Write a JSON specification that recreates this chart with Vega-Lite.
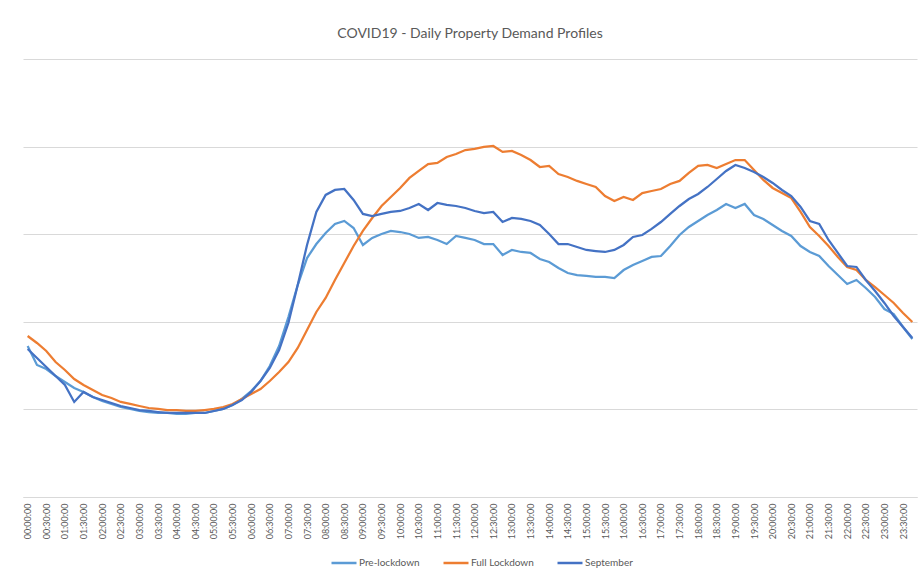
{
"$schema": "https://vega.github.io/schema/vega-lite/v6.json",
"autosize": {"type": "none"},
"width": 894,
"height": 438,
"padding": {"left": 23, "top": 59, "right": 2, "bottom": 77},
"background": "white",
"title": {"text": "COVID19 - Daily Property Demand Profiles", "fontSize": 14, "font": "Lato", "fontWeight": "normal", "color": "#595959", "offset": 18},
"data": {"values": [
{"t":"00:00:00","Pre-lockdown":17.24,"Full Lockdown":18.38,"September":16.90},
{"t":"00:15:00","Pre-lockdown":15.07,"Full Lockdown":17.58,"September":15.87},
{"t":"00:30:00","Pre-lockdown":14.61,"Full Lockdown":16.67,"September":14.84},
{"t":"00:45:00","Pre-lockdown":13.81,"Full Lockdown":15.41,"September":13.81},
{"t":"01:00:00","Pre-lockdown":13.13,"Full Lockdown":14.50,"September":12.79},
{"t":"01:15:00","Pre-lockdown":12.44,"Full Lockdown":13.47,"September":10.85},
{"t":"01:30:00","Pre-lockdown":11.99,"Full Lockdown":12.79,"September":11.99},
{"t":"01:45:00","Pre-lockdown":11.42,"Full Lockdown":12.21,"September":11.42},
{"t":"02:00:00","Pre-lockdown":10.96,"Full Lockdown":11.64,"September":11.07},
{"t":"02:15:00","Pre-lockdown":10.62,"Full Lockdown":11.30,"September":10.73},
{"t":"02:30:00","Pre-lockdown":10.27,"Full Lockdown":10.85,"September":10.39},
{"t":"02:45:00","Pre-lockdown":10.05,"Full Lockdown":10.62,"September":10.16},
{"t":"03:00:00","Pre-lockdown":9.82,"Full Lockdown":10.39,"September":9.93},
{"t":"03:15:00","Pre-lockdown":9.70,"Full Lockdown":10.16,"September":9.82},
{"t":"03:30:00","Pre-lockdown":9.59,"Full Lockdown":10.05,"September":9.70},
{"t":"03:45:00","Pre-lockdown":9.59,"Full Lockdown":9.93,"September":9.59},
{"t":"04:00:00","Pre-lockdown":9.48,"Full Lockdown":9.93,"September":9.59},
{"t":"04:15:00","Pre-lockdown":9.48,"Full Lockdown":9.82,"September":9.59},
{"t":"04:30:00","Pre-lockdown":9.59,"Full Lockdown":9.82,"September":9.59},
{"t":"04:45:00","Pre-lockdown":9.59,"Full Lockdown":9.93,"September":9.59},
{"t":"05:00:00","Pre-lockdown":9.82,"Full Lockdown":10.05,"September":9.82},
{"t":"05:15:00","Pre-lockdown":10.05,"Full Lockdown":10.27,"September":10.05},
{"t":"05:30:00","Pre-lockdown":10.50,"Full Lockdown":10.62,"September":10.50},
{"t":"05:45:00","Pre-lockdown":11.19,"Full Lockdown":11.19,"September":11.07},
{"t":"06:00:00","Pre-lockdown":12.10,"Full Lockdown":11.76,"September":11.99},
{"t":"06:15:00","Pre-lockdown":13.24,"Full Lockdown":12.33,"September":13.24},
{"t":"06:30:00","Pre-lockdown":14.95,"Full Lockdown":13.24,"September":14.73},
{"t":"06:45:00","Pre-lockdown":17.24,"Full Lockdown":14.27,"September":16.78},
{"t":"07:00:00","Pre-lockdown":20.55,"Full Lockdown":15.41,"September":19.86},
{"t":"07:15:00","Pre-lockdown":24.20,"Full Lockdown":17.01,"September":24.20},
{"t":"07:30:00","Pre-lockdown":27.28,"Full Lockdown":19.06,"September":28.77},
{"t":"07:45:00","Pre-lockdown":28.88,"Full Lockdown":21.12,"September":32.54},
{"t":"08:00:00","Pre-lockdown":30.14,"Full Lockdown":22.72,"September":34.48},
{"t":"08:15:00","Pre-lockdown":31.17,"Full Lockdown":24.77,"September":35.05},
{"t":"08:30:00","Pre-lockdown":31.51,"Full Lockdown":26.71,"September":35.16},
{"t":"08:45:00","Pre-lockdown":30.71,"Full Lockdown":28.65,"September":33.91},
{"t":"09:00:00","Pre-lockdown":28.77,"Full Lockdown":30.37,"September":32.31},
{"t":"09:15:00","Pre-lockdown":29.57,"Full Lockdown":31.85,"September":32.08},
{"t":"09:30:00","Pre-lockdown":30.02,"Full Lockdown":33.22,"September":32.31},
{"t":"09:45:00","Pre-lockdown":30.37,"Full Lockdown":34.25,"September":32.54},
{"t":"10:00:00","Pre-lockdown":30.25,"Full Lockdown":35.28,"September":32.65},
{"t":"10:15:00","Pre-lockdown":30.02,"Full Lockdown":36.42,"September":32.99},
{"t":"10:30:00","Pre-lockdown":29.57,"Full Lockdown":37.22,"September":33.45},
{"t":"10:45:00","Pre-lockdown":29.68,"Full Lockdown":38.01,"September":32.76},
{"t":"11:00:00","Pre-lockdown":29.34,"Full Lockdown":38.13,"September":33.56},
{"t":"11:15:00","Pre-lockdown":28.88,"Full Lockdown":38.81,"September":33.34},
{"t":"11:30:00","Pre-lockdown":29.80,"Full Lockdown":39.16,"September":33.22},
{"t":"11:45:00","Pre-lockdown":29.57,"Full Lockdown":39.61,"September":32.99},
{"t":"12:00:00","Pre-lockdown":29.34,"Full Lockdown":39.73,"September":32.65},
{"t":"12:15:00","Pre-lockdown":28.88,"Full Lockdown":39.96,"September":32.42},
{"t":"12:30:00","Pre-lockdown":28.88,"Full Lockdown":40.07,"September":32.54},
{"t":"12:45:00","Pre-lockdown":27.63,"Full Lockdown":39.39,"September":31.39},
{"t":"13:00:00","Pre-lockdown":28.20,"Full Lockdown":39.50,"September":31.85},
{"t":"13:15:00","Pre-lockdown":27.97,"Full Lockdown":39.04,"September":31.74},
{"t":"13:30:00","Pre-lockdown":27.86,"Full Lockdown":38.47,"September":31.51},
{"t":"13:45:00","Pre-lockdown":27.17,"Full Lockdown":37.67,"September":31.05},
{"t":"14:00:00","Pre-lockdown":26.83,"Full Lockdown":37.79,"September":30.02},
{"t":"14:15:00","Pre-lockdown":26.14,"Full Lockdown":36.87,"September":28.88},
{"t":"14:30:00","Pre-lockdown":25.57,"Full Lockdown":36.53,"September":28.88},
{"t":"14:45:00","Pre-lockdown":25.34,"Full Lockdown":36.08,"September":28.54},
{"t":"15:00:00","Pre-lockdown":25.23,"Full Lockdown":35.73,"September":28.20},
{"t":"15:15:00","Pre-lockdown":25.12,"Full Lockdown":35.39,"September":28.08},
{"t":"15:30:00","Pre-lockdown":25.12,"Full Lockdown":34.36,"September":27.97},
{"t":"15:45:00","Pre-lockdown":25.00,"Full Lockdown":33.79,"September":28.20},
{"t":"16:00:00","Pre-lockdown":25.91,"Full Lockdown":34.25,"September":28.77},
{"t":"16:15:00","Pre-lockdown":26.49,"Full Lockdown":33.91,"September":29.68},
{"t":"16:30:00","Pre-lockdown":26.94,"Full Lockdown":34.70,"September":29.91},
{"t":"16:45:00","Pre-lockdown":27.40,"Full Lockdown":34.93,"September":30.60},
{"t":"17:00:00","Pre-lockdown":27.51,"Full Lockdown":35.16,"September":31.39},
{"t":"17:15:00","Pre-lockdown":28.65,"Full Lockdown":35.73,"September":32.31},
{"t":"17:30:00","Pre-lockdown":29.91,"Full Lockdown":36.08,"September":33.22},
{"t":"17:45:00","Pre-lockdown":30.82,"Full Lockdown":36.99,"September":34.02},
{"t":"18:00:00","Pre-lockdown":31.51,"Full Lockdown":37.79,"September":34.59},
{"t":"18:15:00","Pre-lockdown":32.19,"Full Lockdown":37.90,"September":35.39},
{"t":"18:30:00","Pre-lockdown":32.76,"Full Lockdown":37.56,"September":36.30},
{"t":"18:45:00","Pre-lockdown":33.45,"Full Lockdown":38.01,"September":37.22},
{"t":"19:00:00","Pre-lockdown":32.99,"Full Lockdown":38.47,"September":37.90},
{"t":"19:15:00","Pre-lockdown":33.45,"Full Lockdown":38.47,"September":37.56},
{"t":"19:30:00","Pre-lockdown":32.19,"Full Lockdown":37.33,"September":37.10},
{"t":"19:45:00","Pre-lockdown":31.74,"Full Lockdown":36.19,"September":36.53},
{"t":"20:00:00","Pre-lockdown":31.05,"Full Lockdown":35.28,"September":35.85},
{"t":"20:15:00","Pre-lockdown":30.37,"Full Lockdown":34.70,"September":35.05},
{"t":"20:30:00","Pre-lockdown":29.80,"Full Lockdown":34.13,"September":34.36},
{"t":"20:45:00","Pre-lockdown":28.65,"Full Lockdown":32.54,"September":33.11},
{"t":"21:00:00","Pre-lockdown":27.97,"Full Lockdown":30.82,"September":31.51},
{"t":"21:15:00","Pre-lockdown":27.51,"Full Lockdown":29.80,"September":31.17},
{"t":"21:30:00","Pre-lockdown":26.37,"Full Lockdown":28.65,"September":29.34},
{"t":"21:45:00","Pre-lockdown":25.34,"Full Lockdown":27.40,"September":27.86},
{"t":"22:00:00","Pre-lockdown":24.32,"Full Lockdown":26.26,"September":26.37},
{"t":"22:15:00","Pre-lockdown":24.77,"Full Lockdown":25.91,"September":26.26},
{"t":"22:30:00","Pre-lockdown":23.86,"Full Lockdown":24.77,"September":24.77},
{"t":"22:45:00","Pre-lockdown":22.83,"Full Lockdown":23.97,"September":23.52},
{"t":"23:00:00","Pre-lockdown":21.46,"Full Lockdown":23.06,"September":22.15},
{"t":"23:15:00","Pre-lockdown":20.89,"Full Lockdown":22.15,"September":20.66},
{"t":"23:30:00","Pre-lockdown":19.41,"Full Lockdown":21.01,"September":19.41},
{"t":"23:45:00","Pre-lockdown":18.04,"Full Lockdown":19.98,"September":18.15}
]},
"transform": [{"fold": ["Pre-lockdown", "Full Lockdown", "September"], "as": ["series", "value"]}],
"mark": {"type": "line", "strokeWidth": 2.25},
"encoding": {
  "x": {"field": "t", "type": "ordinal", "sort": null, "title": null,
    "axis": {"values": ["00:00:00","00:30:00","01:00:00","01:30:00","02:00:00","02:30:00","03:00:00","03:30:00","04:00:00","04:30:00","05:00:00","05:30:00","06:00:00","06:30:00","07:00:00","07:30:00","08:00:00","08:30:00","09:00:00","09:30:00","10:00:00","10:30:00","11:00:00","11:30:00","12:00:00","12:30:00","13:00:00","13:30:00","14:00:00","14:30:00","15:00:00","15:30:00","16:00:00","16:30:00","17:00:00","17:30:00","18:00:00","18:30:00","19:00:00","19:30:00","20:00:00","20:30:00","21:00:00","21:30:00","22:00:00","22:30:00","23:00:00","23:30:00"],
      "labelAngle": 270, "labelFontSize": 9, "labelFont": "Lato", "labelColor": "#595959", "labelPadding": 6, "ticks": false, "grid": false, "domainColor": "#d9d9d9", "domainWidth": 1}},
  "y": {"field": "value", "type": "quantitative", "scale": {"domain": [0, 50]}, "title": null,
    "axis": {"values": [0, 10, 20, 30, 40, 50], "labels": false, "ticks": false, "domain": false, "gridColor": "#d9d9d9", "gridWidth": 1}},
  "color": {"field": "series", "type": "nominal",
    "scale": {"domain": ["Pre-lockdown", "Full Lockdown", "September"], "range": ["#5B9BD5", "#ED7D31", "#4472C4"]},
    "legend": {"orient": "none", "legendX": 307, "legendY": 490, "direction": "horizontal", "gridAlign": "none", "title": null, "symbolType": "stroke", "symbolSize": 625, "symbolStrokeWidth": 2.5, "labelFontSize": 10, "labelFont": "Lato", "labelColor": "#595959", "labelOffset": 1, "columnPadding": 18}}
},
"config": {"view": {"stroke": null}}
}
